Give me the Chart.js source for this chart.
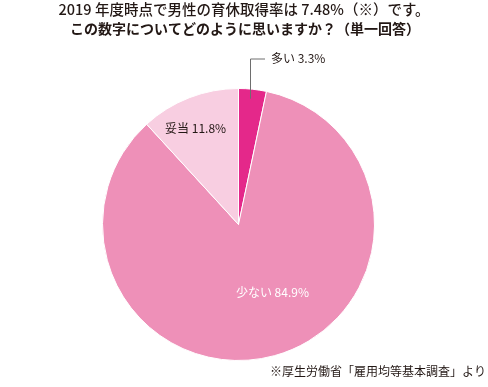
<!DOCTYPE html>
<html>
<head>
<meta charset="utf-8">
<script src="https://cdn.jsdelivr.net/npm/chart.js@4"></script>
<style>
  body { margin: 0; background: #fff; }
  #wrap { width: 488px; height: 387px; position: relative; }
</style>
</head>
<body>
<div id="wrap"><canvas id="chart" width="488" height="387"></canvas></div>
<script>
const titleLines = ['2019 年度時点で男性の育休取得率は 7.48%（※）です。', 'この数字についてどのように思いますか？（単一回答）'];
const categories = ['多い', '少ない', '妥当'];
const values = [3.3, 84.9, 11.8];
const sliceColors = ['#e4288a', '#ee90b8', '#f8cee1'];
const footnote = '※厚生労働省「雇用均等基本調査」より';

const FONT = '"Noto Sans CJK JP", "Noto Sans", sans-serif';
const TEXT = '#231815';

const textPlugin = {
    id: 'texts',
    afterDraw(chart) {
        const ctx = chart.ctx;
        ctx.save();
        ctx.fillStyle = TEXT;
        ctx.textAlign = 'center';
        ctx.textBaseline = 'middle';
        ctx.font = '500 14.5px ' + FONT;
        ctx.fillText(titleLines[0], 244, 9);
        ctx.font = 'bold 14px ' + FONT;
        ctx.fillText(titleLines[1], 245, 29);

        ctx.font = '12px ' + FONT;
        ctx.textAlign = 'right';
        ctx.fillText(footnote, 486, 371);

        const arcs = chart.getDatasetMeta(0).data;
        arcs.forEach((arc, i) => {
            const p = arc.getProps(['x', 'y', 'startAngle', 'endAngle', 'outerRadius'], true);
            const mid = (p.startAngle + p.endAngle) / 2;
            const label = categories[i] + ' ' + values[i] + '%';
            ctx.font = '12px ' + FONT;
            if (i === 0) {
                // leader line for the small slice
                const ax = p.x + Math.cos(mid) * p.outerRadius * 0.93;
                const ay = p.y + Math.sin(mid) * p.outerRadius * 0.93;
                const ty = p.y - p.outerRadius - 30;
                ctx.strokeStyle = '#6e6e6e';
                ctx.lineWidth = 1;
                ctx.beginPath();
                ctx.moveTo(Math.round(ax) - 1.5, ay);
                ctx.lineTo(Math.round(ax) - 1.5, ty + 0.5);
                ctx.lineTo(Math.round(ax) + 13, ty + 0.5);
                ctx.stroke();
                ctx.fillStyle = TEXT;
                ctx.textAlign = 'left';
                ctx.fillText(label, Math.round(ax) + 19, ty);
            } else if (i === 1) {
                const lx = p.x + Math.cos(mid) * p.outerRadius * 0.5;
                const ly = p.y + Math.sin(mid) * p.outerRadius * 0.5;
                ctx.fillStyle = '#ffffff';
                ctx.textAlign = 'center';
                ctx.fillText(label, lx + 16, ly + 2);
            } else {
                const lx = p.x + Math.cos(mid) * p.outerRadius * 0.77;
                const ly = p.y + Math.sin(mid) * p.outerRadius * 0.77;
                ctx.fillStyle = TEXT;
                ctx.textAlign = 'center';
                ctx.fillText(label, lx - 5, ly + 2);
            }
        });
        ctx.restore();
    }
};

new Chart(document.getElementById('chart'), {
    type: 'pie',
    data: {
        labels: categories,
        datasets: [{
            data: values,
            backgroundColor: sliceColors,
            borderColor: '#ffffff',
            borderWidth: 1
        }]
    },
    options: {
        responsive: false,
        animation: false,
        layout: { padding: { left: 102, right: 113, top: 88, bottom: 26 } },
        plugins: {
            legend: { display: false },
            tooltip: { enabled: false },
            title: { display: false }
        }
    },
    plugins: [textPlugin]
});
</script>
</body>
</html>
